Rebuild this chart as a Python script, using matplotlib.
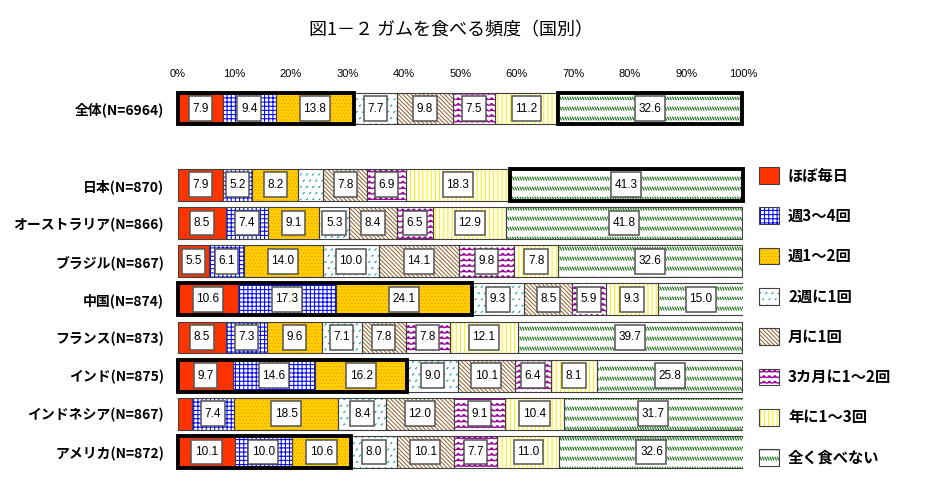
import warnings
warnings.filterwarnings('ignore')
import numpy as np
import matplotlib
matplotlib.use('Agg')
import matplotlib.pyplot as plt
from matplotlib import hatch as mhatch
from matplotlib.path import Path
from matplotlib.patches import Rectangle, Patch
from matplotlib.legend_handler import HandlerTuple

plt.rcParams['font.family'] = ['Noto Sans CJK JP', 'DejaVu Sans']
plt.rcParams['hatch.linewidth'] = 0.75

# ---------------- data ----------------
title = '図1－２ ガムを食べる頻度（国別）'
categories = ['全体(N=6964)', '日本(N=870)', 'オーストラリア(N=866)', 'ブラジル(N=867)',
              '中国(N=874)', 'フランス(N=873)', 'インド(N=875)', 'インドネシア(N=867)',
              'アメリカ(N=872)']
row_pos = [0, 2, 3, 4, 5, 6, 7, 8, 9]

series_names = ['ほぼ毎日', '週3～4回', '週1～2回', '2週に1回', '月に1回',
                '3カ月に1～2回', '年に1～3回', '全く食べない']
daily    = [7.9, 7.9, 8.5, 5.5, 10.6, 8.5, 9.7, 2.5, 10.1]
week34   = [9.4, 5.2, 7.4, 6.1, 17.3, 7.3, 14.6, 7.4, 10.0]
week12   = [13.8, 8.2, 9.1, 14.0, 24.1, 9.6, 16.2, 18.5, 10.6]
biweekly = [7.7, 4.4, 5.3, 10.0, 9.3, 7.1, 9.0, 8.4, 8.0]
monthly  = [9.8, 7.8, 8.4, 14.1, 8.5, 7.8, 10.1, 12.0, 10.1]
quarter  = [7.5, 6.9, 6.5, 9.8, 5.9, 7.8, 6.4, 9.1, 7.7]
yearly   = [11.2, 18.3, 12.9, 7.8, 9.3, 12.1, 8.1, 10.4, 11.0]
never    = [32.6, 41.3, 41.8, 32.6, 15.0, 39.7, 25.8, 31.7, 32.6]
series_values = [daily, week34, week12, biweekly, monthly, quarter, yearly, never]

# highlighted groups: (row index, first series, last series)
highlights = [(0, 0, 2), (0, 7, 7), (1, 7, 7), (4, 0, 2), (6, 0, 2), (8, 0, 2)]
xticks = [0, 10, 20, 30, 40, 50, 60, 70, 80, 90, 100]


# ---------------- custom hatches ----------------
class ZigZagHatch(mhatch.HatchPatternBase):
    def __init__(self, hatch, density):
        self.num_rows = int(hatch.count('z') * density)
        self.num_pts = 2 * self.num_rows + 1
        self.num_vertices = self.num_rows * self.num_pts

    def set_vertices_and_codes(self, vertices, codes):
        n = self.num_rows
        m = self.num_pts
        xs = np.linspace(0, 1, m)
        amp = 0.4 / n
        for i in range(n):
            y0 = i / n
            ys = y0 + np.where(np.arange(m) % 2 == 0, 0.0, amp)
            vertices[i * m:(i + 1) * m, 0] = xs
            vertices[i * m:(i + 1) * m, 1] = ys
            codes[i * m] = Path.MOVETO
            codes[i * m + 1:(i + 1) * m] = Path.LINETO


class DashRowHatch(mhatch.HatchPatternBase):
    def __init__(self, hatch, density):
        self.num_rows = int(hatch.count('w') * 5)
        self.num_dash = 4 * self.num_rows
        self.num_vertices = self.num_rows * self.num_dash * 2

    def set_vertices_and_codes(self, vertices, codes):
        n = self.num_rows
        nd = self.num_dash
        h = 0.28 / n
        dw = 0.6 / nd
        k = 0
        for i in range(n):
            y0 = i / n
            for j in range(nd):
                x = j / nd
                vertices[k] = (x, y0 + h)
                vertices[k + 1] = (x + dw, y0)
                codes[k] = Path.MOVETO
                codes[k + 1] = Path.LINETO
                k += 2


class SparseDotHatch(mhatch.HatchPatternBase):
    """small scattered tick marks"""
    def __init__(self, hatch, density):
        self.num_rows = int(hatch.count('s') * 8)
        self.num_vertices = self.num_rows * self.num_rows * 2

    def set_vertices_and_codes(self, vertices, codes):
        n = self.num_rows
        d = 0.18 / n
        k = 0
        for i in range(n):
            for j in range(n):
                x = (j + 0.5 * (i % 2)) / n
                y = i / n
                vertices[k] = (x, y)
                vertices[k + 1] = (x + d, y + d)
                codes[k] = Path.MOVETO
                codes[k + 1] = Path.LINETO
                k += 2


mhatch._hatch_types.append(ZigZagHatch)
mhatch._hatch_types.append(DashRowHatch)
mhatch._hatch_types.append(SparseDotHatch)

BS = chr(92)
styles = [
    dict(face='#FF3300', hatch=None, hc='#FF3300'),
    dict(face='white', hatch='++++', hc='#0000FF'),
    dict(face='#FFD200', hatch='.....', hc='#FFA000'),
    dict(face='white', hatch='ss', hc='#009999'),
    dict(face='white', hatch=BS * 8, hc='#996633'),
    dict(face='white', hatch='zzz', hc='#990099'),
    dict(face='white', hatch='||||', hc='#FFEE00'),
    dict(face='white', hatch='ww', hc='#006600'),
]
edge_col = '#404040'


def label_box(x0, y0, width, height, mutation_size):
    padx = 0.3 * mutation_size
    pady = 0.55 * mutation_size
    x0 -= padx
    y0 -= pady
    x1 = x0 + width + 2 * padx
    y1 = y0 + height + 2 * pady
    return Path([(x0, y0), (x1, y0), (x1, y1), (x0, y1), (x0, y0)], closed=True)


# ---------------- figure ----------------
W, H = 939, 483
fig = plt.figure(figsize=(W / 100, H / 100), dpi=100)
ax_left, ax_right = 178 / W, 743 / W
ax_top_px, ax_bot_px = 85.6, 474.9
ax = fig.add_axes([ax_left, 1 - ax_bot_px / H, ax_right - ax_left, (ax_bot_px - ax_top_px) / H])

bar_h = 0.83
left = np.zeros(len(categories))
for vals, st in zip(series_values, styles):
    vals = np.array(vals)
    ax.barh(row_pos, vals, left=left, height=bar_h, color=st['face'],
            hatch=st['hatch'], edgecolor=st['hc'], linewidth=0, zorder=1)
    ax.barh(row_pos, vals, left=left, height=bar_h, fill=False,
            edgecolor=edge_col, linewidth=0.8, zorder=1.5)
    for y, v, l in zip(row_pos, vals, left):
        if v >= 5:
            ax.text(l + v / 2, y, f'{v:.1f}', ha='center', va='center',
                    fontsize=8.5, family='Liberation Sans', color='black', zorder=4,
                    bbox=dict(boxstyle=label_box, fc='white', ec='#555555', lw=1.1))
    left = left + vals

cum = np.cumsum(np.array(series_values), axis=0)
for r, a, b in highlights:
    x0 = cum[a - 1][r] if a > 0 else 0.0
    x1 = cum[b][r]
    ax.add_patch(Rectangle((x0, row_pos[r] - bar_h / 2), x1 - x0, bar_h, fill=False,
                           lw=2.8, ec='black', zorder=3, joinstyle='miter', clip_on=False))

ax.set_xlim(0, 100)
ax.set_ylim(9.6, -0.6)
ax.set_xticks(xticks)
ax.set_xticklabels([f'{t}%' for t in xticks], fontsize=8, family='Liberation Sans')
ax.set_yticks(row_pos)
ax.set_yticklabels(categories, fontsize=10, fontweight='bold')
ax.tick_params(axis='x', top=True, labeltop=True, bottom=False, labelbottom=False,
               length=0, pad=5)
ax.tick_params(axis='y', length=0, pad=10)
for s in ax.spines.values():
    s.set_visible(False)

handles = [(Patch(facecolor=st['face'], hatch=st['hatch'], edgecolor=st['hc'], lw=0),
            Patch(fill=False, edgecolor=edge_col, lw=0.8)) for st in styles]
fig.legend(handles, series_names, handler_map={tuple: HandlerTuple(ndivide=1)},
           loc='upper left', bbox_to_anchor=(759 / W, 1 - 167 / H), frameon=False,
           prop=dict(size=11, weight='bold'), handlelength=1.3, handleheight=1.3,
           labelspacing=1.55, handletextpad=0.6, borderpad=0, borderaxespad=0)

fig.text(451 / W, 1 - 30 / H, title, ha='center', va='center', fontsize=13)

fig.savefig('out.png', dpi=100)
